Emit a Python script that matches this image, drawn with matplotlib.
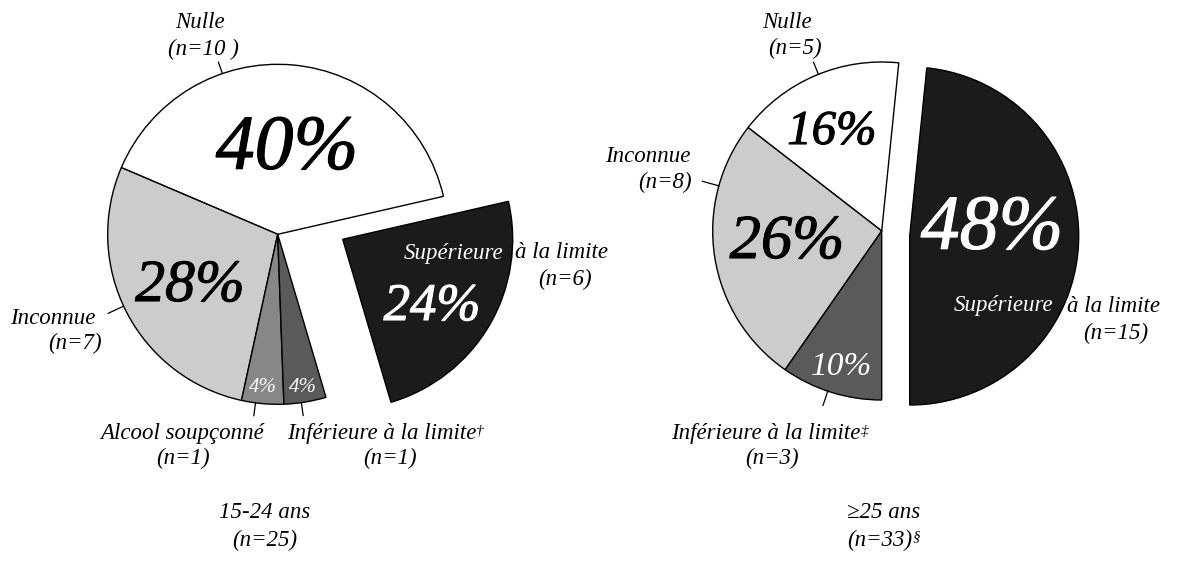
import matplotlib
matplotlib.use('Agg')
import matplotlib.pyplot as plt
import matplotlib.patheffects as pe
import numpy as np

W, H = 1177, 578

# 15-24 ans (n=25), order: Supérieure, Nulle, Inconnue, Alcool, Inférieure
left_counts = [6, 10, 7, 1, 1]
left_pcts = ['24%', '40%', '28%', '4%', '4%']
left_colors = ['#1b1b1b', '#ffffff', '#cccccc', '#878787', '#5a5a5a']

# >=25 ans (n=33), order: Supérieure, Nulle, Inconnue, Inférieure
right_counts = [15, 5, 8, 3]
right_pcts = ['48%', '16%', '26%', '10%']
right_colors = ['#1b1b1b', '#ffffff', '#cccccc', '#5a5a5a']

FONT = dict(family='Liberation Serif', style='italic')
LAB = 16.5


def y(v):
    # pixel row -> data y (axes spans the whole figure)
    return H - v


fig = plt.figure(figsize=(W / 100, H / 100), dpi=100)
ax = fig.add_axes([0, 0, 1, 1])

wp = dict(edgecolor='black', linewidth=1.0)
lw, _ = ax.pie(left_counts, colors=left_colors, startangle=-73.5, center=(277.7, y(234.3)),
               radius=170, wedgeprops=wp, frame=True)
lw[0].set_center((277.7 + 65, y(234.3) - 5))

rw, _ = ax.pie(right_counts, colors=right_colors, startangle=-90, center=(881.7, y(231)),
               radius=169, wedgeprops=wp, frame=True)
rw[0].set_center((881.7 + 28, y(231) - 5))

ax.set_xlim(0, W)
ax.set_ylim(0, H)
ax.axis('off')


def txt(x, yy, s, size, color='black', ha='center', heavy=False):
    t = ax.text(x, y(yy), s, fontsize=size, color=color, ha=ha, va='center', **FONT)
    if heavy:
        t.set_path_effects([pe.withStroke(linewidth=0.8, foreground=color)])
    return t


def sup(t, s, size=11):
    ax.annotate(s, xy=(1.0, 0.95), xycoords=t, ha='left', va='top', fontsize=size, **FONT)


# percentages, left pie
txt(287, 150, left_pcts[1], 56, heavy=True)
txt(190, 287, left_pcts[2], 43, heavy=True)
txt(432, 307, left_pcts[0], 38, 'white', heavy=True)
txt(263, 388, left_pcts[3], 15, 'white')
txt(303, 388, left_pcts[4], 15, 'white')

# percentages, right pie
txt(992, 230, right_pcts[0], 56, 'white', heavy=True)
txt(832, 132, right_pcts[1], 35, heavy=True)
txt(787, 243, right_pcts[2], 45, heavy=True)
txt(841, 367, right_pcts[3], 24, 'white')

# labels, left pie
txt(200, 22, 'Nulle', LAB)
txt(203, 49, '(n=10 )', LAB)
txt(53, 318, 'Inconnue', LAB)
txt(75, 343, '(n=7)', LAB)
txt(182, 434, 'Alcool soupçonné', LAB)
txt(183, 458, '(n=1)', LAB)
t = txt(287, 434, 'Inférieure à la limite', LAB, ha='left')
sup(t, '†')
txt(390, 458, '(n=1)', LAB)
txt(503, 253, 'Supérieure', LAB, 'white', ha='right')
txt(515, 253, 'à la limite', LAB, ha='left')
txt(565, 279, '(n=6)', LAB)

# labels, right pie
txt(787, 22, 'Nulle', LAB)
txt(795, 48, '(n=5)', LAB)
txt(648, 157, 'Inconnue', LAB)
txt(665, 182, '(n=8)', LAB)
t = txt(766, 434, 'Inférieure à la limite', LAB)
sup(t, '‡')
txt(772, 458, '(n=3)', LAB)
txt(1053, 306, 'Supérieure', LAB, 'white', ha='right')
txt(1067, 306, 'à la limite', LAB, ha='left')
txt(1116, 333, '(n=15)', LAB)

# leader lines: (center x, center row, radius, angle, length)
leaders = [
    (277.7, 234.3, 170, 109, 12),
    (277.7, 234.3, 170, 205, 17),
    (277.7, 234.3, 170, 262.5, 13),
    (277.7, 234.3, 170, 278, 13),
    (881.7, 231, 169, 112, 13),
    (881.7, 231, 169, 164.5, 17),
    (881.7, 231, 169, 251.4, 15),
]
for cx, cr, r, ang, ln in leaders:
    a = np.deg2rad(ang)
    ax.plot([cx + r * np.cos(a), cx + (r + ln) * np.cos(a)],
            [y(cr) + r * np.sin(a), y(cr) + (r + ln) * np.sin(a)], color='black', lw=0.9)

# group titles
txt(265, 512, '15-24 ans', LAB)
txt(265, 540, '(n=25)', LAB)
txt(884, 512, '≥25 ans', LAB)
t = txt(880, 540, '(n=33)', LAB)
sup(t, '§', 11)

fig.savefig('out.png', dpi=100)
